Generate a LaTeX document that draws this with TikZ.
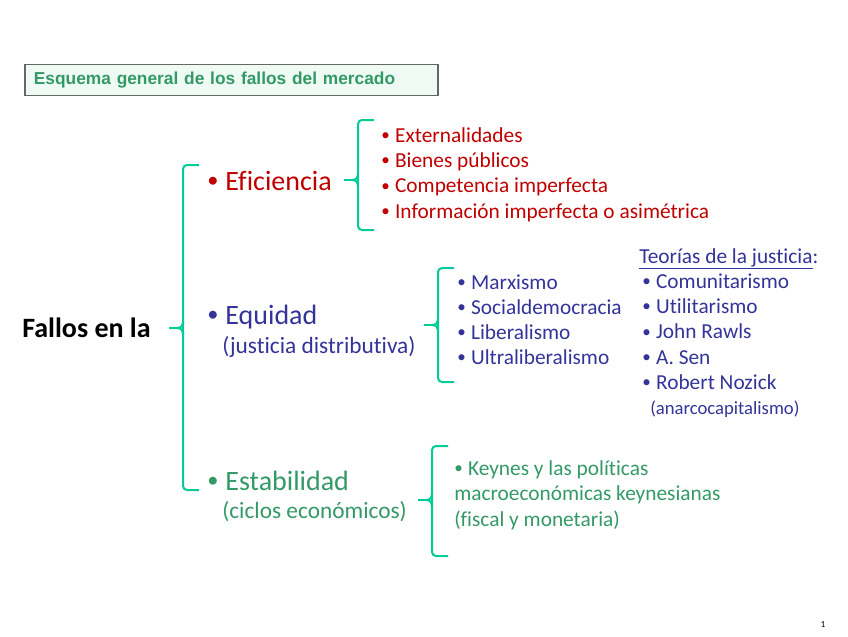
\documentclass[tikz,border=0pt]{standalone}
\usepackage{fontspec}
\usepackage{tikz}
\setmainfont{Carlito}[Ligatures=NoCommon]
\newfontfamily\arialfam{Liberation Sans}

\definecolor{rojo}{RGB}{192,0,0}
\definecolor{azul}{RGB}{51,51,153}
\definecolor{verde}{RGB}{51,153,102}
\definecolor{llavecol}{RGB}{0,204,153}
\definecolor{titfondo}{RGB}{240,250,244}

\newcommand\bala{\raisebox{0.08em}{\scalebox{0.8}{•}}\hspace{0.25em}}

\tikzset{
  llave/.style={draw=llavecol,line width=1.5pt,rounded corners=3pt},
  titulo/.style={draw=black!60,line width=1.4pt,fill=titfondo,anchor=west,
    inner xsep=6.75pt,inner ysep=0pt,minimum height=23.25pt,text width=296pt,
    align=left,text=verde,font=\arialfam\bfseries\fontsize{13}{15}\selectfont},
  grande/.style={anchor=base west,inner sep=0pt,font=\fontsize{21}{25}\selectfont},
  sub/.style={anchor=base west,inner sep=0pt,font=\fontsize{17.5}{21}\selectfont},
  lista/.style={anchor=base west,inner sep=0pt,font=\fontsize{16}{19}\selectfont}
}

\begin{document}
\begin{tikzpicture}[x=0.75pt,y=-0.75pt]
  \useasboundingbox (0,0) rectangle (848,636);
  \node[titulo] (tit) at (24,80) {Esquema general de los fallos del mercado};

  \node[grande,font=\fontsize{21}{25}\selectfont\bfseries] (fallos) at (22,337) {Fallos en la};

  % eficiencia
  \node[grande,text=rojo] (efi) at (207,190) {\bala Eficiencia};
  \foreach \t [count=\i] in {Externalidades,Bienes públicos,Competencia imperfecta,Información imperfecta o asimétrica}
    \node[lista,text=rojo] (efi\i) at (381,{142+25.4*(\i-1)}) {\bala\t};

  % equidad
  \node[grande,text=azul] (equi) at (207,324) {\bala Equidad};
  \node[sub,text=azul] (equisub) at (222,353) {(justicia distributiva)};
  \foreach \t [count=\i] in {Marxismo,Socialdemocracia,Liberalismo,Ultraliberalismo}
    \node[lista,text=azul] (equi\i) at (457,{289+25.2*(\i-1)}) {\bala\t};
  \node[lista,text=azul] (teorias) at (639,263) {\underline{Teorías de la justicia}:};
  \foreach \t [count=\i] in {Comunitarismo,Utilitarismo,John Rawls,A. Sen,Robert Nozick}
    \node[lista,text=azul] (teo\i) at (642,{288+25.4*(\i-1)}) {\bala\t};
  \node[anchor=base west,inner sep=0pt,text=azul,font=\fontsize{14}{17}\selectfont] (anarco) at (650,414) {(anarcocapitalismo)};

  % estabilidad
  \node[grande,text=verde] (esta) at (207,490) {\bala Estabilidad};
  \node[sub,text=verde] (estasub) at (222,518) {(ciclos económicos)};
  \foreach \t [count=\i] in {\bala Keynes y las políticas,macroeconómicas keynesianas,(fiscal y monetaria)}
    \node[lista,text=verde] (esta\i) at (454,{475+25.5*(\i-1)}) {\t};

  % llaves
  \foreach \x/\t/\b/\m in {183/165/490/328,358/120/230/180,438/268/382/325,432/446/556/500}
  {
    \draw[llave] (\x+16,\t) -- (\x,\t) -- (\x,\b) -- (\x+16,\b);
    \draw[draw=llavecol,line width=1.5pt] (\x,\m-7) .. controls (\x,\m-2) and (\x-2,\m) .. (\x-6,\m)
      .. controls (\x-2,\m) and (\x,\m+2) .. (\x,\m+7);
    \draw[draw=llavecol,line width=1.5pt] (\x-6,\m) -- (\x-14,\m);
  }

  \node[inner sep=0pt,font=\fontsize{7}{8}\selectfont] (pag) at (823,624) {1};
\end{tikzpicture}
\end{document}
